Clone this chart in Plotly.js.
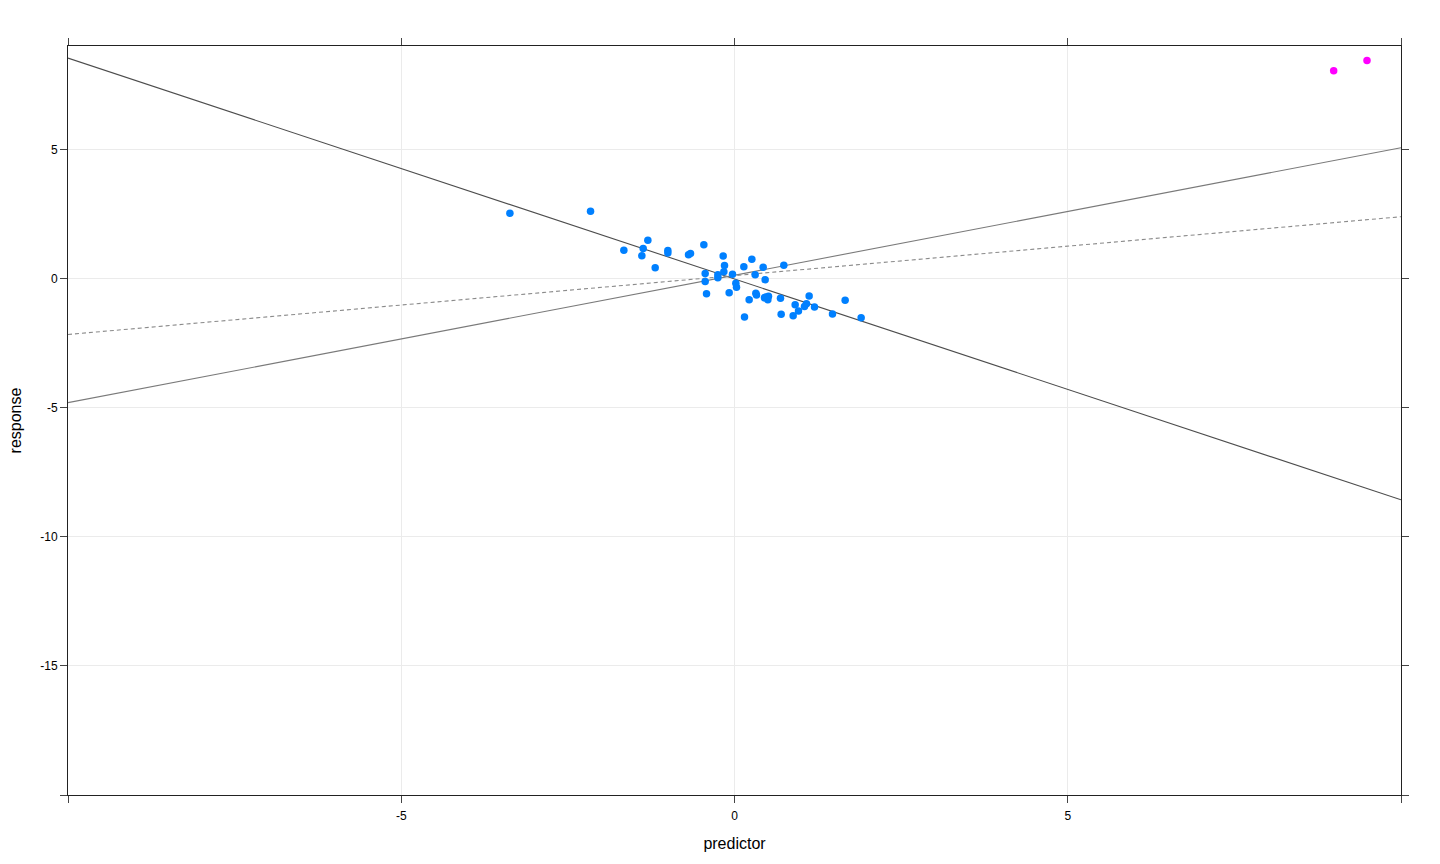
<!DOCTYPE html>
<html>
<head>
<meta charset="utf-8">
<script src="https://cdn.plot.ly/plotly-3.0.1.min.js"></script>
<style>
  html, body { margin: 0; padding: 0; background: #fff; }
  #fig { width: 1440px; height: 864px; }
</style>
</head>
<body>
<div id="fig"></div>
<script>
// main cloud of observations
var predX = [-3.37, -2.16, -1.66, -1.30, -1.37, -1.39, -1.19, -1.00, -1.00, -0.69,
             -0.66, -0.46, -0.17, -0.15, -0.16, -0.44, -0.44, -0.42, -0.25, -0.25,
             -0.03, 0.02, 0.03, -0.08, 0.14, 0.26, 0.31, 0.43, 0.46, 0.32,
             0.33, 0.22, 0.15, 0.47, 0.51, 0.50, 0.45, 0.69, 0.74, 0.70,
             0.88, 0.91, 0.96, 1.05, 1.08, 1.12, 1.20, 1.47, 1.66, 1.90];
var respY = [2.52, 2.60, 1.09, 1.48, 1.16, 0.88, 0.41, 1.08, 0.99, 0.92,
             0.97, 1.30, 0.87, 0.50, 0.26, 0.19, -0.12, -0.59, 0.14, 0.03,
             0.16, -0.19, -0.34, -0.55, 0.45, 0.74, 0.14, 0.43, -0.05, -0.57,
             -0.64, -0.82, -1.49, -0.72, -0.69, -0.82, -0.75, -0.77, 0.51, -1.39,
             -1.44, -1.02, -1.26, -1.09, -0.98, -0.68, -1.11, -1.38, -0.84, -1.52];

// two outlying points
var outX = [8.99, 9.49];
var outY = [8.04, 8.44];

// fitted lines: intercept, slope
var fitNames = ['fit (clean)', 'fit (all)', 'fit (robust)'];
var fitA = [-0.02, 0.125, 0.11];
var fitB = [-0.855, 0.4935, 0.228];
var fitCol = ['#4d4d4d', '#7a7a7a', '#8a8a8a'];
var fitDash = ['solid', 'solid', '4px,3px'];

var xRange = [-10, 10];
var yRange = [-20, 9];
var xTicks = [-10, -5, 0, 5, 10];
var xLabels = ['', '-5', '0', '5', ''];
var yTicks = [-20, -15, -10, -5, 0, 5];
var yLabels = ['', '-15', '-10', '-5', '0', '5'];

var traces = [];
for (var i = 0; i < fitA.length; i++) {
  traces.push({
    x: xRange,
    y: xRange.map(function (v) { return fitA[i] + fitB[i] * v; }),
    type: 'scatter', mode: 'lines', name: fitNames[i],
    line: { color: fitCol[i], width: 1.1, dash: fitDash[i] },
    hoverinfo: 'skip'
  });
}
traces.push({ x: predX, y: respY, type: 'scatter', mode: 'markers', name: 'data',
              marker: { color: '#0080ff', size: 7.5, line: { width: 0 } } });
traces.push({ x: outX, y: outY, type: 'scatter', mode: 'markers', name: 'outliers',
              marker: { color: '#ff00ff', size: 7.5, line: { width: 0 } } });

var axisCommon = {
  showline: true, linecolor: '#222', linewidth: 1, mirror: 'ticks',
  ticks: 'outside', ticklen: 7, tickcolor: '#444', tickwidth: 1,
  showgrid: true, gridcolor: '#ebebeb', gridwidth: 1, zeroline: false,
  tickfont: { size: 12, color: '#000' }, tickmode: 'array', automargin: false
};

var layout = {
  width: 1440, height: 864,
  margin: { l: 68, r: 39, t: 46, b: 69 },
  paper_bgcolor: '#fff', plot_bgcolor: '#fff',
  showlegend: false,
  font: { family: 'Liberation Sans, Arial, sans-serif', color: '#000' },
  xaxis: Object.assign({}, axisCommon, {
    range: xRange, tickvals: xTicks, ticktext: xLabels, ticklabelstandoff: 3,
    title: { text: 'predictor', font: { size: 16 }, standoff: 15 }
  }),
  yaxis: Object.assign({}, axisCommon, {
    range: yRange, tickvals: yTicks, ticktext: yLabels,
    title: { text: 'response', font: { size: 16 }, standoff: 14 }
  })
};

Plotly.newPlot('fig', traces, layout, { staticPlot: true });
</script>
</body>
</html>
